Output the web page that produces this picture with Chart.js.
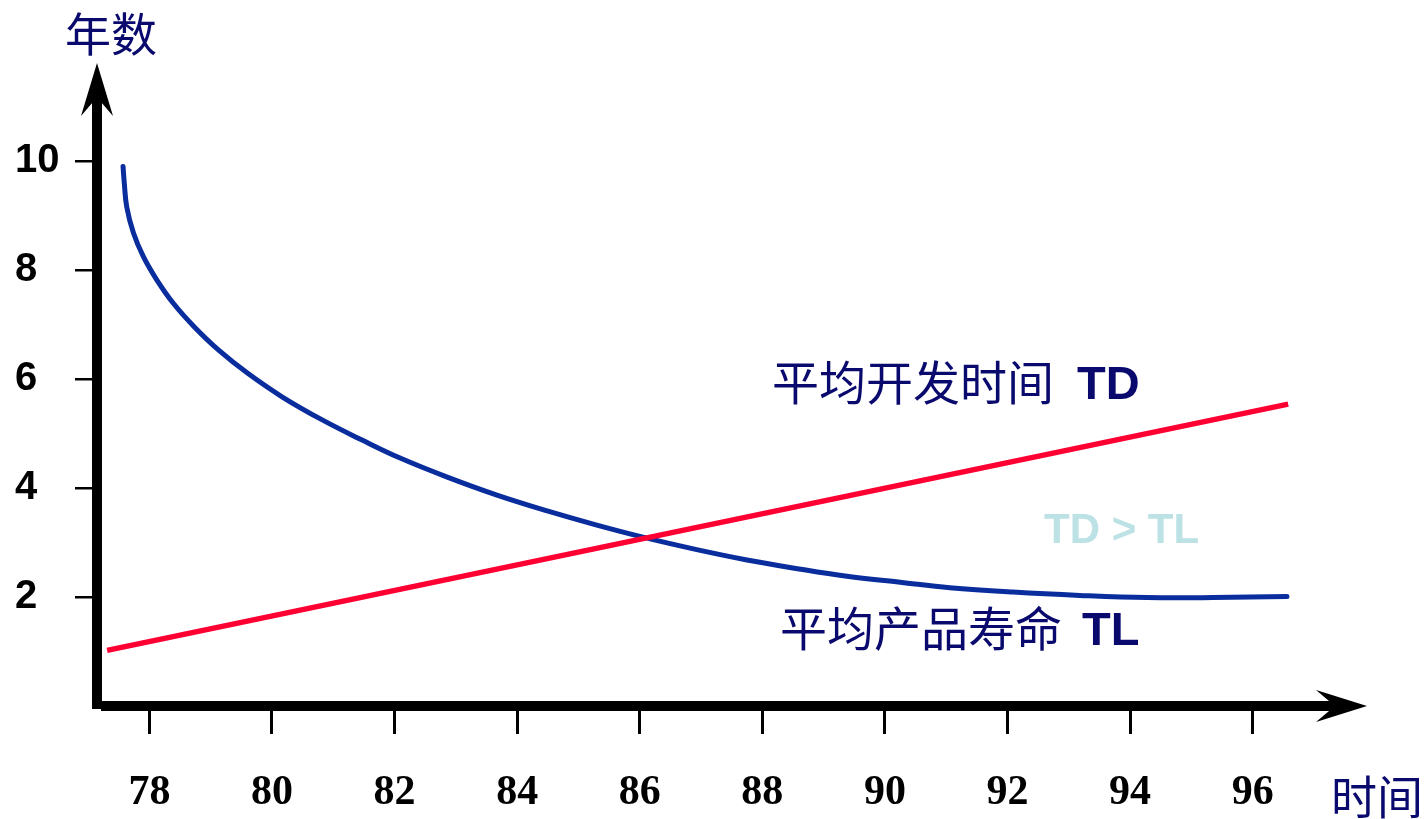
<!DOCTYPE html>
<html>
<head>
<meta charset="utf-8">
<script src="https://cdn.jsdelivr.net/npm/chart.js@4.4.1/dist/chart.umd.min.js"></script>
<style>
  html, body { margin: 0; padding: 0; background: #ffffff; }
  #wrap { width: 1428px; height: 819px; position: relative; }
</style>
</head>
<body>
<div id="wrap"><canvas id="c" width="1428" height="819"></canvas></div>
<script>
// Axis ticks
const xTickValues = [78, 80, 82, 84, 86, 88, 90, 92, 94, 96];
const yTickValues = [2, 4, 6, 8, 10];

// 平均开发时间 TD (red, straight rise)
const tdYears  = [77.31, 96.58];
const tdValues = [1.02, 5.54];

// 平均产品寿命 TL (blue, falling curve)
const tlYears  = [77.57, 77.59, 77.63, 77.74, 77.90, 78.12, 78.39, 78.73, 79.13, 79.61,
                  80.17, 80.82, 81.47, 82.09, 82.86, 83.67, 84.49, 85.30, 86.12, 86.93,
                  87.75, 88.57, 89.38, 90.25, 91.06, 92.09, 93.18, 94.28, 95.35, 96.56];
const tlValues = [9.90, 9.60, 9.16, 8.68, 8.25, 7.82, 7.39, 6.96, 6.53, 6.10,
                  5.67, 5.25, 4.88, 4.55, 4.20, 3.87, 3.58, 3.32, 3.08, 2.87,
                  2.68, 2.52, 2.38, 2.27, 2.17, 2.09, 2.03, 1.99, 1.99, 2.01];

const NAVY = '#0a0a6e';

// Thick arrowed axes plus the text labels
const axesAndText = {
  id: 'axesAndText',
  afterDraw(chart) {
    const ctx = chart.ctx;
    const a = chart.chartArea;
    ctx.save();
    ctx.fillStyle = '#000000';

    // vertical axis shaft + arrowhead
    const cx = a.left;
    ctx.fillRect(cx - 5, a.top + 39, 10, a.bottom + 3 - (a.top + 39));
    ctx.beginPath();
    ctx.moveTo(cx, a.top);
    ctx.lineTo(cx + 16, a.top + 53);
    ctx.lineTo(cx + 4, a.top + 39);
    ctx.lineTo(cx - 4, a.top + 39);
    ctx.lineTo(cx - 16, a.top + 53);
    ctx.closePath();
    ctx.fill();

    // horizontal axis shaft + arrowhead
    const cy = a.bottom;
    ctx.fillRect(a.left + 4, cy - 5, a.right - 38 - (a.left + 4), 10);
    ctx.beginPath();
    ctx.moveTo(a.right, cy);
    ctx.lineTo(a.right - 51, cy + 16);
    ctx.lineTo(a.right - 38, cy + 5);
    ctx.lineTo(a.right - 38, cy - 5);
    ctx.lineTo(a.right - 51, cy - 16);
    ctx.closePath();
    ctx.fill();

    // axis titles
    ctx.fillStyle = NAVY;
    ctx.textBaseline = 'alphabetic';
    ctx.textAlign = 'left';
    ctx.font = '46px "Noto Sans CJK SC"';
    ctx.fillText('年数', 65, 51);
    ctx.fillText('时间', 1331, 814);

    // series labels
    ctx.font = '47px "Noto Sans CJK SC"';
    ctx.fillText('平均开发时间', 772, 400);
    ctx.fillText('平均产品寿命', 780, 646);
    ctx.font = 'bold 47px "Liberation Sans", Arial, sans-serif';
    ctx.fillText('TD', 1077, 399);
    ctx.fillText('TL', 1082, 645);

    ctx.fillStyle = '#bde2e5';
    ctx.font = 'bold 42px "Liberation Sans", Arial, sans-serif';
    ctx.fillText('TD > TL', 1044, 543);
    ctx.restore();
  }
};

new Chart(document.getElementById('c'), {
  type: 'line',
  data: {
    datasets: [
      {
        label: '平均开发时间 TD',
        data: tdYears.map((x, i) => ({ x, y: tdValues[i] })),
        borderColor: '#ff0033',
        borderWidth: 5.5,
        pointRadius: 0,
        tension: 0
      },
      {
        label: '平均产品寿命 TL',
        data: tlYears.map((x, i) => ({ x, y: tlValues[i] })),
        borderColor: '#0a2d9e',
        borderWidth: 5,
        borderCapStyle: 'round',
        borderJoinStyle: 'round',
        pointRadius: 0,
        tension: 0.4
      }
    ]
  },
  options: {
    responsive: false,
    animation: false,
    events: [],
    layout: { padding: { left: 15, top: 63, right: 61, bottom: 0 } },
    plugins: {
      legend: { display: false },
      tooltip: { enabled: false },
      title: { display: false }
    },
    scales: {
      x: {
        type: 'linear',
        min: 77.145,
        max: 97.866,
        border: { display: false },
        grid: {
          drawOnChartArea: false,
          drawTicks: true,
          tickLength: 28,
          color: '#000000',
          lineWidth: 3
        },
        afterBuildTicks(scale) {
          scale.ticks = xTickValues.map(v => ({ value: v }));
        },
        afterFit(scale) { scale.height = 113; },
        ticks: {
          padding: 34,
          color: '#000000',
          maxRotation: 0,
          autoSkip: false,
          font: { family: '"Liberation Serif", "Times New Roman", serif', size: 42, weight: 'bold' },
          callback: v => String(v)
        }
      },
      y: {
        type: 'linear',
        min: 0,
        max: 11.8,
        border: { display: false },
        grid: {
          drawOnChartArea: false,
          drawTicks: true,
          tickLength: 22,
          color: '#000000',
          lineWidth: 2.5
        },
        afterBuildTicks(scale) {
          scale.ticks = yTickValues.map(v => ({ value: v }));
        },
        afterFit(scale) { scale.width = 82; },
        ticks: {
          crossAlign: 'far',
          color: '#000000',
          font: { family: '"Liberation Sans", Arial, sans-serif', size: 40, weight: 'bold' },
          callback: v => String(v)
        }
      }
    }
  },
  plugins: [axesAndText]
});
</script>
</body>
</html>
